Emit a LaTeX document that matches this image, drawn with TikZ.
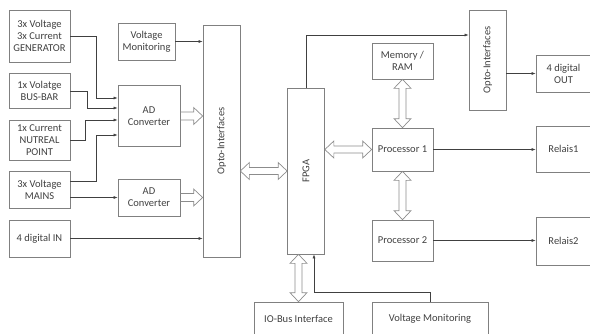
\documentclass[tikz,border=0pt]{standalone}
\usepackage{fontspec}
\setmainfont{Carlito}
\usetikzlibrary{arrows.meta,calc}

\begin{document}
\begin{tikzpicture}[x=1pt,y=-1pt,>={Latex[length=4pt,width=3pt]},thick,
  box/.style={draw=black!50,line width=0.7pt,align=center,text=black!75,font=\fontsize{10.5}{12}\selectfont,inner sep=1pt},
  wire/.style={->,draw=black!75,line width=0.6pt},
  bus/.style={draw=black!45,line width=0.7pt,to path={
    ($(\tikztotarget)!9pt!(\tikztostart)$) coordinate (he)
    ($(\tikztostart)!4pt!90:(\tikztotarget)$) -- ($(he)!4pt!90:(\tikztotarget)$) -- ($(he)!8.5pt!90:(\tikztotarget)$)
    -- (\tikztotarget) -- ($(he)!8.5pt!-90:(\tikztotarget)$) -- ($(he)!4pt!-90:(\tikztotarget)$)
    -- ($(\tikztostart)!4pt!-90:(\tikztotarget)$)}},
  dbus/.style={draw=black!45,line width=0.7pt,to path={
    ($(\tikztostart)!9pt!(\tikztotarget)$) coordinate (hs) ($(\tikztotarget)!9pt!(\tikztostart)$) coordinate (he)
    (\tikztostart) -- ($(hs)!8.5pt!90:(\tikztotarget)$) -- ($(hs)!3.5pt!90:(\tikztotarget)$)
    -- ($(he)!3.5pt!90:(\tikztotarget)$) -- ($(he)!8.5pt!90:(\tikztotarget)$) -- (\tikztotarget)
    -- ($(he)!8.5pt!-90:(\tikztotarget)$) -- ($(he)!3.5pt!-90:(\tikztotarget)$)
    -- ($(hs)!3.5pt!-90:(\tikztotarget)$) -- ($(hs)!8.5pt!-90:(\tikztotarget)$) -- cycle}}]
  \useasboundingbox (0,0) rectangle (590,333);
  \clip (0,0) rectangle (590,333);
  \node[box,minimum width=61pt,minimum height=52pt] (gen) at (39.5,36) {3x Voltage\\3x Current\\GENERATOR};
  \node[box,minimum width=61pt,minimum height=35pt] (busbar) at (39.5,91) {1x Volatge\\BUS-BAR};
  \node[box,minimum width=61pt,minimum height=40pt] (neutral) at (39.5,140) {1x Current\\NUTREAL\\POINT};
  \node[box,minimum width=61pt,minimum height=37pt] (mains) at (39.5,189.5) {3x Voltage\\MAINS};
  \node[box,minimum width=61pt,minimum height=37pt] (din) at (39.5,238.5) {4 digital IN};
  \node[box,minimum width=57pt,minimum height=37pt] (vmon) at (146.5,41.5) {Voltage\\Monitoring};
  \node[box,minimum width=62pt,minimum height=61pt] (ad1) at (149,116) {AD\\Converter};
  \node[box,minimum width=62pt,minimum height=37pt] (ad2) at (149,197.5) {AD\\Converter};
  \node[box,minimum width=37pt,minimum height=232pt] (optoL) at (221.5,141) {\rotatebox{90}{Opto-Interfaces}};
  \node[box,minimum width=37pt,minimum height=166pt] (fpga) at (306,171) {\rotatebox{90}{FPGA}};
  \node[box,minimum width=61pt,minimum height=36pt] (mem) at (402.5,61) {Memory /\\RAM};
  \node[box,minimum width=61pt,minimum height=43pt] (proc1) at (402.5,149.5) {Processor 1};
  \node[box,minimum width=61pt,minimum height=41pt] (proc2) at (402.5,240.5) {Processor 2};
  \node[box,minimum width=37pt,minimum height=100pt] (optoR) at (487.5,60) {\rotatebox{90}{Opto-Interfaces}};
  \node[box,minimum width=55pt,minimum height=37pt] (dout) at (563.5,73.5) {4 digital\\OUT};
  \node[box,minimum width=55pt,minimum height=46pt] (rel1) at (563.5,149) {Relais1};
  \node[box,minimum width=55pt,minimum height=48pt] (rel2) at (563.5,241) {Relais2};
  \node[box,minimum width=89pt,minimum height=34pt] (iobus) at (298.5,319) {IO-Bus Interface};
  \node[box,minimum width=116pt,minimum height=34pt] (vmon2) at (430,319) {Voltage Monitoring};

  % measured inputs into the first converter
  \draw[wire] (gen.east) -| ([xshift=-21pt,yshift=18pt]ad1.west) -- ([yshift=18pt]ad1.west);
  \draw[wire] (busbar.east) -| ([xshift=-30pt,yshift=8pt]ad1.west) -- ([yshift=8pt]ad1.west);
  \draw[wire] (neutral.east) -| ([xshift=-32pt,yshift=-4pt]ad1.west) -- ([yshift=-4pt]ad1.west);
  \draw[wire] ([yshift=8pt]mains.east) -| ([xshift=-21pt,yshift=-19pt]ad1.west) -- ([yshift=-19pt]ad1.west);
  \draw[wire] ([yshift=-8pt]mains.east) -- (ad2.west);
  \draw[wire] (din.east) -- (optoL.west |- din.east);
  \draw[wire] (vmon.east) -- (optoL.west |- vmon.east);

  % data buses
  \draw[bus] (ad1.east) to (optoL.west |- ad1.east);
  \draw[bus] (ad2.east) to (optoL.west |- ad2.east);
  \draw[dbus] (fpga.west -| optoL.east) to (fpga.west);
  \draw[dbus] (fpga.east |- proc1.west) to (proc1.west);
  \draw[dbus] (mem.south) to (proc1.north);
  \draw[dbus] (proc1.south) to (proc2.north);
  \draw[dbus] (iobus.north |- fpga.south) to (iobus.north);

  \draw[wire] (fpga.north) |- ([yshift=25pt]optoR.west);
  \draw[wire] (dout.west -| optoR.east) -- (dout.west);
  \draw[wire] (proc1.east) -- (rel1.west |- proc1.east);
  \draw[wire] (proc2.east) -- (rel2.west |- proc2.east);
  \draw[wire] (vmon2.north) -- ++(0,-9) -| ([xshift=8pt]fpga.south);
\end{tikzpicture}
\end{document}
